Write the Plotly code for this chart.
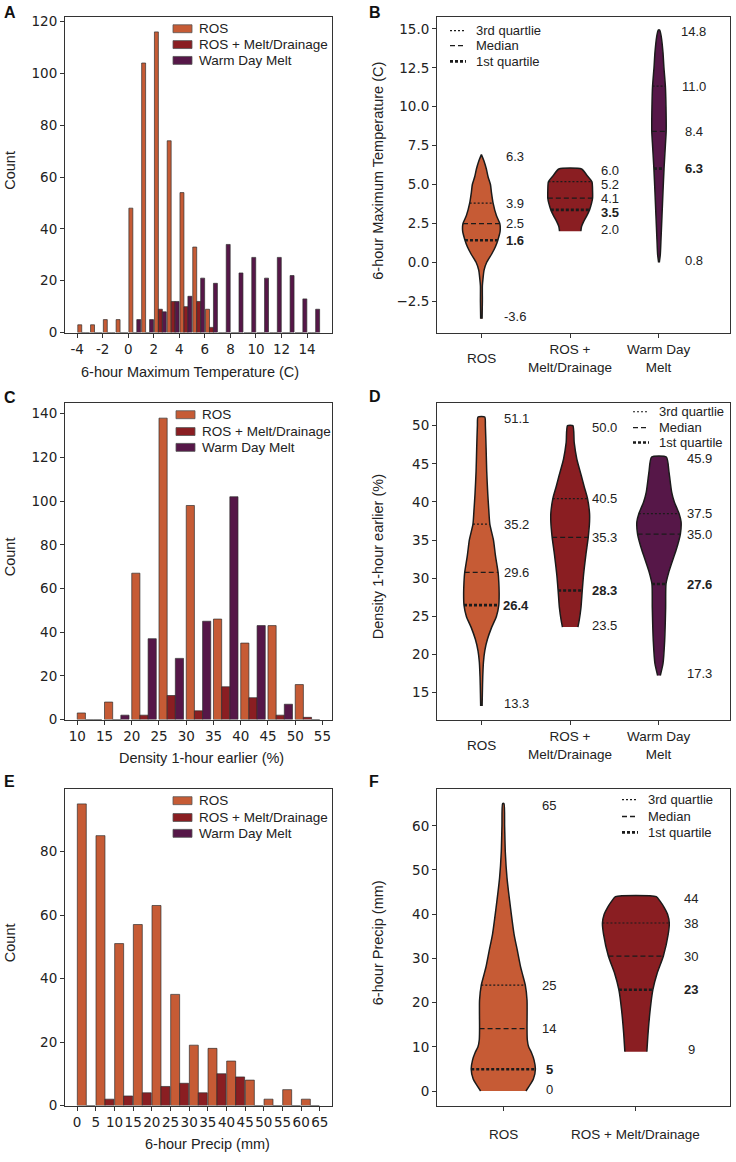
import numpy as np
import plotly.graph_objects as go

W, H = 736, 1162

names = ["ROS", "ROS + Melt/Drainage", "Warm Day Melt"]
colors = ["#C65B35", "#8A1E22", "#561748"]

# ---- A: 6-hour max temperature histogram (1 C bins, left edges) ----
tmax_bins = list(range(-4, 15))
tmax_ros = [3, 3, 5, 5, 48, 104, 116, 74, 54, 33, 9, 0, 0, 0, 0, 0, 0, 0, 0]
tmax_melt = [0, 0, 0, 0, 0, 0, 9, 12, 10, 12, 2, 0, 0, 0, 0, 0, 0, 0, 0]
tmax_warm = [0, 0, 0, 0, 5, 5, 8, 12, 14, 21, 19, 34, 23, 29, 21, 29, 22, 13, 9]
tmax_ticks = [-4, -2, 0, 2, 4, 6, 8, 10, 12, 14]

# ---- C: density 1-hour earlier histogram (5 % bins) ----
dens_bins = [10, 15, 20, 25, 30, 35, 40, 45, 50]
dens_ros = [3, 8, 67, 138, 98, 46, 35, 43, 16]
dens_melt = [0, 0, 2, 11, 4, 15, 10, 2, 1]
dens_warm = [0, 2, 37, 28, 45, 102, 43, 7, 0]
dens_ticks = [10, 15, 20, 25, 30, 35, 40, 45, 50, 55]

# ---- E: 6-hour precip histogram (5 mm bins) ----
prcp_bins = [0, 5, 10, 15, 20, 25, 30, 35, 40, 45, 50, 55, 60]
prcp_ros = [95, 85, 51, 57, 63, 35, 19, 18, 14, 8, 2, 5, 2]
prcp_melt = [0, 2, 3, 4, 6, 7, 4, 10, 9, 0, 0, 0, 0]
prcp_ticks = [0, 5, 10, 15, 20, 25, 30, 35, 40, 45, 50, 55, 60, 65]

# ---- B: violin outlines (value, half width) and quartiles ----
b_cats = ["ROS", "ROS +<br>Melt/Drainage", "Warm Day<br>Melt"]
b_ros_y = [-3.63, -2.5, -1.5, -1.0, -0.5, 0.0, 0.5, 1.0, 1.42, 2.0, 2.5, 3.0, 3.8, 4.5, 5.0, 5.5, 6.0, 6.5, 6.92]
b_ros_w = [0.008, 0.011, 0.011, 0.019, 0.030, 0.060, 0.113, 0.158, 0.185, 0.211, 0.207, 0.169, 0.132, 0.113, 0.102, 0.075, 0.056, 0.030, 0.0]
b_melt_y = [2.0, 2.3, 2.6, 3.0, 3.37, 3.8, 4.12, 4.6, 5.18, 5.6, 6.0]
b_melt_w = [0.120, 0.128, 0.150, 0.188, 0.218, 0.241, 0.252, 0.252, 0.245, 0.188, 0.128]
b_warm_y = [0.0, 0.5, 1.5, 3.0, 4.5, 6.02, 7.5, 8.42, 10.0, 11.33, 12.5, 13.5, 14.5, 14.93]
b_warm_w = [0.004, 0.015, 0.023, 0.034, 0.045, 0.057, 0.072, 0.081, 0.079, 0.072, 0.056, 0.045, 0.026, 0.008]
b_q1 = [1.42, 3.37, 6.02]
b_med = [2.48, 4.12, 8.42]
b_q3 = [3.80, 5.18, 11.33]
b_labels = [["6.3", "3.9", "2.5", "1.6", "-3.6"],
            ["6.0", "5.2", "4.1", "3.5", "2.0"],
            ["14.8", "11.0", "8.4", "6.3", "0.8"]]

# ---- D ----
d_cats = b_cats
d_ros_y = [13.27, 15, 17, 19, 20.5, 22, 23.5, 25, 26.48, 28, 29.5, 30.77, 33, 35, 37.1, 39, 41, 44, 47, 50, 51.13]
d_ros_w = [0.008, 0.011, 0.015, 0.023, 0.038, 0.068, 0.113, 0.169, 0.196, 0.200, 0.196, 0.188, 0.158, 0.136, 0.095, 0.083, 0.072, 0.060, 0.053, 0.045, 0.038]
d_melt_y = [23.6, 24.5, 26.1, 28.4, 30.5, 33.1, 35.36, 37.4, 38.5, 40.4, 42.0, 43.5, 45.6, 47.8, 50.0]
d_melt_w = [0.087, 0.102, 0.121, 0.136, 0.151, 0.177, 0.203, 0.218, 0.218, 0.196, 0.158, 0.124, 0.075, 0.045, 0.030]
d_warm_y = [17.26, 18.8, 21.8, 26.1, 29.25, 30.9, 32.5, 33.5, 35.8, 37.4, 38.48, 40.0, 41.3, 43.9, 45.89]
d_warm_w = [0.015, 0.045, 0.064, 0.075, 0.079, 0.113, 0.158, 0.188, 0.241, 0.249, 0.226, 0.173, 0.143, 0.113, 0.083]
d_q1 = [26.48, 28.39, 29.25]
d_med = [30.77, 35.36, 35.79]
d_q3 = [37.10, 40.43, 38.48]
d_labels = [["51.1", "35.2", "29.6", "26.4", "13.3"],
            ["50.0", "40.5", "35.3", "28.3", "23.5"],
            ["45.9", "37.5", "35.0", "27.6", "17.3"]]

# ---- F ----
f_cats = ["ROS", "ROS + Melt/Drainage"]
f_ros_y = [0, 2.7, 4.93, 7, 8.7, 10, 11.6, 14.1, 20.6, 23.96, 26.5, 28, 31.8, 35.5, 43, 48.2, 54.2, 60, 65]
f_ros_w = [0.171, 0.227, 0.242, 0.232, 0.212, 0.191, 0.181, 0.179, 0.179, 0.166, 0.144, 0.131, 0.106, 0.081, 0.048, 0.028, 0.015, 0.010, 0.005]
f_melt_y = [8.9, 13.1, 18.4, 22.9, 26.6, 30.5, 35.5, 38.0, 40.0, 41.5, 43.0, 43.96]
f_melt_w = [0.083, 0.092, 0.108, 0.128, 0.160, 0.207, 0.244, 0.252, 0.239, 0.214, 0.181, 0.154]
f_q1 = [4.93, 22.9]
f_med = [14.1, 30.5]
f_q3 = [23.96, 38.0]
f_labels = [["65", "25", "14", "5", "0"],
            ["44", "38", "30", "23", "9"]]

quart_names = ["3rd quartlie", "Median", "1st quartile"]


# ---------------- helpers ----------------
def fx(px):
    return px / W


def fy(py):
    return 1 - py / H


SANS = "Liberation Sans, Arial, sans-serif"
TICKFONT = dict(family="DejaVu Sans", size=13.5, color="#222")
EDGE = "rgba(45,45,45,0.85)"
OUTLINE = "#1b1b1b"
q_styles = [dict(width=1.2, dash="2px,2px"),   # 3rd quartile
            dict(width=1.3, dash="5px,3px"),   # median
            dict(width=2.6, dash="3px,2px")]   # 1st quartile

# plot areas in pixels: left, top, right, bottom
boxes = {1: (65, 13, 332, 332), 2: (437, 13, 730, 332),
         3: (65, 403, 332, 723), 4: (437, 403, 730, 723),
         5: (65, 793, 332, 1113), 6: (437, 793, 730, 1113)}

xcfg = {
    1: dict(range=[-4.95, 15.95], tickvals=tmax_ticks, ticktext=[str(t) for t in tmax_ticks]),
    2: dict(range=[-0.5, 2.8], tickvals=[0, 1, 2], showticklabels=False),
    3: dict(range=[7.75, 56.75], tickvals=dens_ticks),
    4: dict(range=[-0.5, 2.8], tickvals=[0, 1, 2], showticklabels=False),
    5: dict(range=[-3.25, 68.25], tickvals=prcp_ticks),
    6: dict(range=[-0.5, 1.71], tickvals=[0, 1], showticklabels=False),
}
ycfg = {
    1: dict(range=[0, 121.8], tickvals=[0, 20, 40, 60, 80, 100, 120]),
    2: dict(range=[-4.52, 15.78], tickvals=[-2.5, 0, 2.5, 5, 7.5, 10, 12.5, 15], tickformat=".1f"),
    3: dict(range=[0, 145], tickvals=[0, 20, 40, 60, 80, 100, 120, 140]),
    4: dict(range=[11.49, 52.99], tickvals=[15, 20, 25, 30, 35, 40, 45, 50]),
    5: dict(range=[0, 99.75], tickvals=[0, 20, 40, 60, 80]),
    6: dict(range=[-3.28, 68.36], tickvals=[0, 10, 20, 30, 40, 50, 60]),
}

fig = go.Figure()
annotations = []
shapes = []


def ax(k):
    return ("x", "y") if k == 1 else (f"x{k}", f"y{k}")


def add_hist(k, lefts, bw, series, sw, offs):
    xr, yr = ax(k)
    centers = [l + bw / 2 for l in lefts]
    for counts, col, off in zip(series, colors, offs):
        fig.add_trace(go.Bar(x=centers, y=counts, width=sw, offset=off,
                             marker=dict(color=col, line=dict(color=EDGE, width=0.8)),
                             xaxis=xr, yaxis=yr, showlegend=False))


def add_violin(k, i, ys, ws, col, q1, med, q3, labels, dx):
    xr, yr = ax(k)
    xs = [i + w for w in ws] + [i - w for w in ws[::-1]]
    yy = list(ys) + list(ys[::-1])
    fig.add_trace(go.Scatter(x=xs, y=yy, fill="toself", fillcolor=col, mode="lines",
                             line=dict(color=OUTLINE, width=1.5, shape="spline", smoothing=0.6),
                             xaxis=xr, yaxis=yr, showlegend=False, hoverinfo="skip"))
    for q, st in zip([q3, med, q1], q_styles):
        hw = float(np.interp(q, ys, ws))
        fig.add_trace(go.Scatter(x=[i - hw, i + hw], y=[q, q], mode="lines",
                                 line=dict(color=OUTLINE, **st),
                                 xaxis=xr, yaxis=yr, showlegend=False, hoverinfo="skip"))
    # value labels: max, q3, median, q1, min; keep them at least `gap` px apart
    y0, y1 = ycfg[k]["range"]
    ppu = (boxes[k][3] - boxes[k][1]) / (y1 - y0)
    ypos = [ys[-1], q3, med, q1, ys[0]]
    pix = [v * ppu for v in ypos]
    pix[0] -= 1.5
    pix[4] += 2
    gap = 14
    for j in range(1, 5):
        if pix[j - 1] - pix[j] < gap:
            pix[j] = pix[j - 1] - gap
    for j, txt in enumerate(labels):
        t = f"<b>{txt}</b>" if j == 3 else txt
        annotations.append(dict(x=i + dx, y=ypos[j], xref=xr, yref=yr, text=t, showarrow=False,
                                xanchor="center", yanchor="middle", yshift=pix[j] - ypos[j] * ppu,
                                font=dict(family=SANS, size=13, color="#222")))


def bar_legend(x0, rows, labels):
    for r, col, lab in zip(rows, colors, labels):
        shapes.append(dict(type="rect", xref="paper", yref="paper",
                           x0=fx(x0), x1=fx(x0 + 19), y0=fy(r + 4), y1=fy(r - 4),
                           fillcolor=col, line=dict(color="#555", width=0.8)))
        annotations.append(dict(x=fx(x0 + 24), y=fy(r), xref="paper", yref="paper", text=lab,
                                showarrow=False, xanchor="left", yanchor="middle",
                                font=dict(family=SANS, size=13.5, color="#222")))


def line_legend(x0, rows):
    for r, st, lab in zip(rows, q_styles, quart_names):
        shapes.append(dict(type="line", xref="paper", yref="paper",
                           x0=fx(x0), x1=fx(x0 + 16), y0=fy(r), y1=fy(r),
                           line=dict(color=OUTLINE, **st)))
        annotations.append(dict(x=fx(x0 + 24), y=fy(r), xref="paper", yref="paper", text=lab,
                                showarrow=False, xanchor="left", yanchor="middle",
                                font=dict(family=SANS, size=13, color="#222")))


# ---------------- histograms ----------------
add_hist(1, tmax_bins, 1, [tmax_ros, tmax_melt, tmax_warm], 0.31, [-0.45, -0.14, 0.17])
add_hist(3, dens_bins, 5, [dens_ros, dens_melt, dens_warm], 1.5, [-2.5, -1.0, 0.5])
add_hist(5, prcp_bins, 5, [prcp_ros, prcp_melt], 2.4, [-2.45, -0.05])

# ---------------- violins ----------------
b_dx = [0.383, 0.451, 0.39]
for i, (ys, ws) in enumerate([(b_ros_y, b_ros_w), (b_melt_y, b_melt_w), (b_warm_y, b_warm_w)]):
    add_violin(2, i, ys, ws, colors[i], b_q1[i], b_med[i], b_q3[i], b_labels[i], b_dx[i])
d_dx = [0.395, 0.39, 0.455]
for i, (ys, ws) in enumerate([(d_ros_y, d_ros_w), (d_melt_y, d_melt_w), (d_warm_y, d_warm_w)]):
    add_violin(4, i, ys, ws, colors[i], d_q1[i], d_med[i], d_q3[i], d_labels[i], d_dx[i])
f_dx = [0.345, 0.416]
for i, (ys, ws) in enumerate([(f_ros_y, f_ros_w), (f_melt_y, f_melt_w)]):
    add_violin(6, i, ys, ws, colors[i], f_q1[i], f_med[i], f_q3[i], f_labels[i], f_dx[i])

# ---------------- axes ----------------
base = dict(showline=True, mirror=True, linecolor="#333", linewidth=1, ticks="outside",
            ticklen=4, tickwidth=1, tickcolor="#333", showgrid=False, zeroline=False,
            tickfont=TICKFONT, tickangle=0, fixedrange=True)
layout_axes = {}
for k, (l, t, r, b) in boxes.items():
    xr, yr = ax(k)
    xname = "xaxis" if k == 1 else f"xaxis{k}"
    yname = "yaxis" if k == 1 else f"yaxis{k}"
    layout_axes[xname] = dict(domain=[fx(l), fx(r)], anchor=yr, **base, **xcfg[k])
    layout_axes[yname] = dict(domain=[fy(b), fy(t)], anchor=xr, **base, **ycfg[k])

# ---------------- text: letters, titles, category labels ----------------
letters = [("A", 2, 9), ("B", 367, 9), ("C", 2, 398), ("D", 367, 397), ("E", 2, 786), ("F", 367, 786)]
for s, x, y in letters:
    annotations.append(dict(x=fx(x), y=fy(y), xref="paper", yref="paper", text=f"<b>{s}</b>",
                            showarrow=False, xanchor="left", yanchor="middle",
                            font=dict(family=SANS, size=16, color="#111")))

title_font = dict(family=SANS, size=14.5, color="#222")
xtitles = [("6-hour Maximum Temperature (C)", 190, 372),
           ("Density 1-hour earlier (%)", 201, 762),
           ("6-hour Precip (mm)", 208, 1152)]
for s, x, y in xtitles:
    annotations.append(dict(x=fx(x), y=fy(y), xref="paper", yref="paper", text=s, showarrow=False,
                            xanchor="center", yanchor="middle", font=title_font))
ytitles = [("Count", 10, 1), ("6-hour Maximum Temperature (C)", 378, 2),
           ("Count", 10, 3), ("Density 1-hour earlier (%)", 378, 4),
           ("Count", 10, 5), ("6-hour Precip (mm)", 378, 6)]
for s, x, k in ytitles:
    t, b = boxes[k][1], boxes[k][3]
    annotations.append(dict(x=fx(x), y=fy((t + b) / 2 - 4), xref="paper", yref="paper", text=s,
                            showarrow=False, textangle=-90, xanchor="center", yanchor="middle",
                            font=title_font))

cat_font = dict(family=SANS, size=13.5, color="#222")
for k, cats, off in [(2, b_cats, 26.5), (4, d_cats, 26), (6, f_cats, 29)]:
    xr, _ = ax(k)
    for i, c in enumerate(cats):
        annotations.append(dict(x=i, y=fy(boxes[k][3] + off), xref=xr, yref="paper", text=c,
                                showarrow=False, xanchor="center", yanchor="middle", font=cat_font))

# ---------------- legends ----------------
bar_legend(173, [25, 41, 57], names)
bar_legend(176, [415, 432, 448], names)
bar_legend(173, [805, 822, 838], names)
line_legend(450, [27, 42, 58])
line_legend(633, [412, 428, 443])
line_legend(622, [804, 821, 837])

fig.update_layout(width=W, height=H, margin=dict(l=0, r=0, t=0, b=0),
                  paper_bgcolor="white", plot_bgcolor="white", barmode="overlay",
                  showlegend=False, annotations=annotations, shapes=shapes, **layout_axes)

# the page's default 8px body margin would push the figure off the window
fig.write_html("out.html", config={"displayModeBar": False},
               post_script="document.body.style.margin = '0';")
